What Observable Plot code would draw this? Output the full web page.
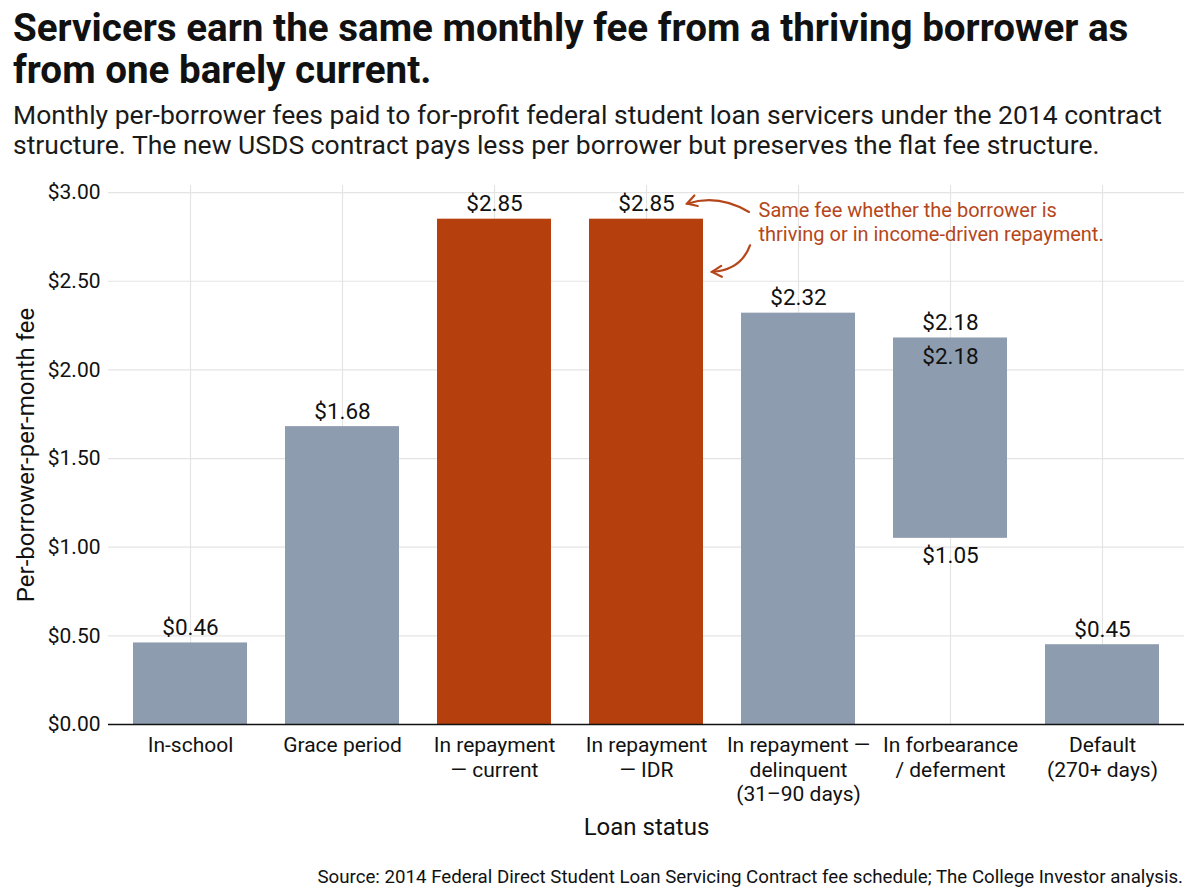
<!DOCTYPE html>
<html>
<head>
<meta charset="utf-8">
<script src="https://cdn.jsdelivr.net/npm/d3@7"></script>
<script src="https://cdn.jsdelivr.net/npm/@observablehq/plot@0.6"></script>
<style>
  html, body { margin: 0; padding: 0; background: #fff; }
  body { width: 1200px; font-family: Roboto, "Noto Sans", sans-serif; color: #111; }
  #title { padding: 7px 0 0 13px; font-weight: 700; font-size: 38.6px; line-height: 42px; color: #111; white-space: nowrap; }
  #sub { margin-top: 9px; padding-left: 13px; font-size: 26.5px; line-height: 30px; color: #1a1a1a; white-space: nowrap; }
  #chart { height: 684px; }
  #cap { margin-top: 23px; padding-right: 17px; text-align: right; font-size: 18.7px; line-height: 20px; color: #111; }
  g[aria-label="x-axis label"] text { font-size: 24px; }
  g[aria-label="y-axis label"] text { font-size: 24px; }
</style>
</head>
<body>
<div id="title">Servicers earn the same monthly fee from a thriving borrower as<br>from one barely current.</div>
<div id="sub">Monthly per-borrower fees paid to for-profit federal student loan servicers under the 2014 contract<br>structure. The new USDS contract pays less per borrower but preserves the flat fee structure.</div>
<div id="chart"></div>
<div id="cap">Source: 2014 Federal Direct Student Loan Servicing Contract fee schedule; The College Investor analysis.</div>
<script>
// ---- data ----
const categories = [
  "In-school",
  "Grace period",
  "In repayment\n— current",
  "In repayment\n— IDR",
  "In repayment —\ndelinquent\n(31–90 days)",
  "In forbearance\n/ deferment",
  "Default\n(270+ days)"
];
const feeLow  = [0, 0, 0, 0, 0, 1.05, 0];
const feeHigh = [0.46, 1.68, 2.85, 2.85, 2.32, 2.18, 0.45];
const highlighted = [false, false, true, true, false, false, false];
const yTicks = [0, 0.5, 1, 1.5, 2, 2.5, 3];
const annotationText = "Same fee whether the borrower is\nthriving or in income-driven repayment.";

const rows = categories.map((c, i) => ({status: c, low: feeLow[i], high: feeHigh[i], hl: highlighted[i]}));
const rangeRows = rows.filter(d => d.low > 0);

const ORANGE = "#B5400D", GREY = "#8E9CAF", ANNOT = "#B5461A";
const fmt = v => "$" + v.toFixed(2);

const plot = Plot.plot({
  width: 1200,
  height: 684,
  marginTop: 25,
  marginLeft: 108,
  marginRight: 16,
  marginBottom: 120,
  style: {fontFamily: "Roboto, 'Noto Sans', sans-serif", fontSize: "21px", color: "#111", background: "#fff"},
  x: {domain: categories, paddingInner: 0.25, paddingOuter: 0.157},
  y: {domain: [0, 3.04]},
  marks: [
    Plot.gridY(yTicks, {stroke: "#e4e4e4", strokeOpacity: 1, strokeWidth: 1.2}),
    Plot.gridX(categories, {stroke: "#e4e4e4", strokeOpacity: 1, strokeWidth: 1.2}),
    Plot.barY(rows, {x: "status", y1: "low", y2: "high", fill: d => d.hl ? ORANGE : GREY}),
    Plot.ruleY([0], {stroke: "#111", strokeWidth: 1.5}),
    Plot.axisY(yTicks, {tickSize: 0, tickPadding: 8, tickFormat: fmt, label: "Per-borrower-per-month fee", labelAnchor: "center", labelArrow: "none", labelOffset: 92}),
    Plot.axisX({tickSize: 0, tickPadding: 10, lineHeight: 1.17, label: "Loan status", labelAnchor: "center", labelArrow: "none", labelOffset: 110}),
    Plot.text(rows, {x: "status", y: "high", text: d => fmt(d.high), dy: -15, fontSize: 22.5}),
    Plot.text(rangeRows, {x: "status", y: "high", text: d => fmt(d.high), dy: 19, fontSize: 22.5}),
    Plot.text(rangeRows, {x: "status", y: "low", text: d => fmt(d.low), dy: 17, fontSize: 22.5}),
    Plot.text([annotationText], {x: () => categories[3], y: () => 2.837, text: d => d, textAnchor: "start", lineAnchor: "middle", lineHeight: 1.2, dx: 112, fill: ANNOT, fontSize: 20})
  ]
});
document.getElementById("chart").append(plot);

// annotation arrows positioned via the plot's scales
const xs = plot.scale("x"), ys = plot.scale("y");
const bw = xs.bandwidth;
const idrLeft = xs.apply(categories[3]);
const idrCenter = idrLeft + bw / 2, idrRight = idrLeft + bw;
const svg = d3.select(plot);
function arrow(x0, y0, cx, cy, x1, y1) {
  const g = svg.append("g").attr("fill", "none").attr("stroke", ANNOT).attr("stroke-width", 2.2).attr("stroke-linecap", "round");
  g.append("path").attr("d", `M${x0},${y0}Q${cx},${cy} ${x1},${y1}`);
  const a = Math.atan2(y1 - cy, x1 - cx), L = 11, w = Math.PI / 6;
  g.append("path").attr("d", `M${x1 - L * Math.cos(a - w)},${y1 - L * Math.sin(a - w)}L${x1},${y1}L${x1 - L * Math.cos(a + w)},${y1 - L * Math.sin(a + w)}`);
}
const labelY = ys.apply(2.85) - 15;
arrow(idrCenter + 103, ys.apply(2.888), idrCenter + 72, labelY - 10, idrCenter + 41, labelY);
arrow(idrCenter + 104, ys.apply(2.70), idrCenter + 95, ys.apply(2.56), idrRight + 9, ys.apply(2.55));
</script>
</body>
</html>
